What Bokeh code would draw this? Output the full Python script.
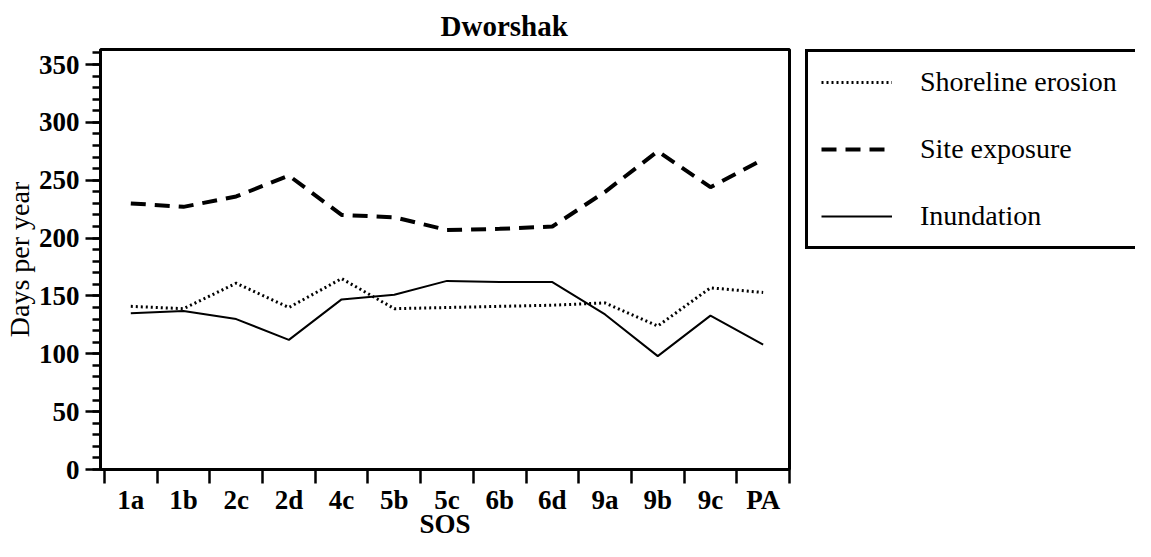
from bokeh.plotting import figure
from bokeh.layouts import row
from bokeh.models import FixedTicker, Range1d, Legend, LegendItem
from bokeh.embed import file_html
from bokeh.resources import INLINE

# ---- data ----
categories = ["1a", "1b", "2c", "2d", "4c", "5b", "5c", "6b", "6d", "9a", "9b", "9c", "PA"]
shoreline_erosion = [141, 139, 161, 140, 165, 139, 140, 141, 142, 144, 124, 157, 153]
site_exposure = [230, 227, 236, 254, 220, 218, 207, 208, 210, 240, 275, 244, 268]
inundation = [135, 137, 130, 112, 147, 151, 163, 162, 162, 134, 98, 133, 108]
series_names = ["Shoreline erosion", "Site exposure", "Inundation"]
y_ticks = [0, 50, 100, 150, 200, 250, 300, 350]
y_minor = list(range(0, 361, 10))

x_centers = [i + 0.5 for i in range(len(categories))]
x_bounds = list(range(len(categories) + 1))

SERIF = "Liberation Serif"
styles = [dict(line_width=3, line_dash="2 3"),
          dict(line_width=4, line_dash="15 9"),
          dict(line_width=2, line_dash="solid")]
series = [shoreline_erosion, site_exposure, inundation]

H = 541
p = figure(width=797, height=H, output_backend="svg", toolbar_location=None,
           x_range=Range1d(-0.075, len(categories)), y_range=Range1d(0, 363),
           min_border_left=95, min_border_right=8, min_border_top=49, min_border_bottom=65)
p.background_fill_color = "white"
p.border_fill_color = "white"
p.outline_line_color = "black"
p.outline_line_width = 3
p.outline_line_alpha = 1
p.xgrid.visible = False
p.ygrid.visible = False

# title
p.title.text = "Dworshak"
p.title.align = "left"
p.title.offset = 340
p.title.text_font = SERIF
p.title.text_font_size = "29px"
p.title.text_font_style = "bold"
p.title.text_color = "black"
p.title.standoff = 15

for vals, st in zip(series, styles):
    p.line(x_centers, vals, line_color="black", **st)

# x axis
xa = p.xaxis[0]
xa.ticker = FixedTicker(ticks=x_centers, minor_ticks=x_bounds)
xa.major_label_overrides = {xc: c for xc, c in zip(x_centers, categories)}
xa.major_tick_out = 0
xa.major_tick_in = 0
xa.minor_tick_out = 14
xa.minor_tick_in = 0
xa.minor_tick_line_width = 2.5
xa.minor_tick_line_color = "black"
xa.axis_line_width = 3
xa.axis_line_color = "black"
xa.major_label_standoff = 1
xa.major_label_text_font = SERIF
xa.major_label_text_font_size = "27px"
xa.major_label_text_font_style = "bold"
xa.major_label_text_color = "black"
xa.axis_label = "SOS"
xa.axis_label_standoff = -9
xa.axis_label_text_font = SERIF
xa.axis_label_text_font_size = "27px"
xa.axis_label_text_font_style = "bold"
xa.axis_label_text_color = "black"

# y axis
ya = p.yaxis[0]
ya.ticker = FixedTicker(ticks=y_ticks, minor_ticks=y_minor)
ya.major_tick_out = 15
ya.major_tick_in = 0
ya.minor_tick_out = 8
ya.minor_tick_in = 0
ya.major_tick_line_width = 2.5
ya.minor_tick_line_width = 2.5
ya.major_tick_line_color = "black"
ya.minor_tick_line_color = "black"
ya.axis_line_width = 3
ya.axis_line_color = "black"
ya.major_label_standoff = 6
ya.major_label_text_font = SERIF
ya.major_label_text_font_size = "27px"
ya.major_label_text_font_style = "bold"
ya.major_label_text_color = "black"
ya.axis_label = "Days per year"
ya.axis_label_standoff = 1
ya.axis_label_text_font = SERIF
ya.axis_label_text_font_size = "28px"
ya.axis_label_text_font_style = "normal"
ya.axis_label_text_color = "black"

# legend panel (separate figure to the right; the box runs off the page edge)
lf = figure(width=338, height=H, output_backend="svg", toolbar_location=None,
            x_axis_type=None, y_axis_type=None, x_range=Range1d(0, 1), y_range=Range1d(0, 1),
            min_border_left=8, min_border_right=0, min_border_top=39, min_border_bottom=0)
lf.outline_line_color = None
lf.xgrid.visible = False
lf.ygrid.visible = False
lf.background_fill_color = "white"
lf.border_fill_color = "white"

items = []
for name, vals, st in zip(series_names, series, styles):
    r = lf.line(x_centers, vals, line_color="black", **st)
    r.visible = False
    items.append(LegendItem(label=name, renderers=[r]))

legend = Legend(items=items, location="top_left", margin=0, padding=13, spacing=33,
                glyph_height=34, glyph_width=71, label_height=34, label_width=222,
                label_standoff=28, border_line_width=3, border_line_color="black",
                border_line_alpha=1, background_fill_color="white", background_fill_alpha=1,
                label_text_font=SERIF, label_text_font_size="28px", label_text_color="black")
lf.add_layout(legend)

layout = row(p, lf)
open("out.html", "w").write(file_html(layout, INLINE))
